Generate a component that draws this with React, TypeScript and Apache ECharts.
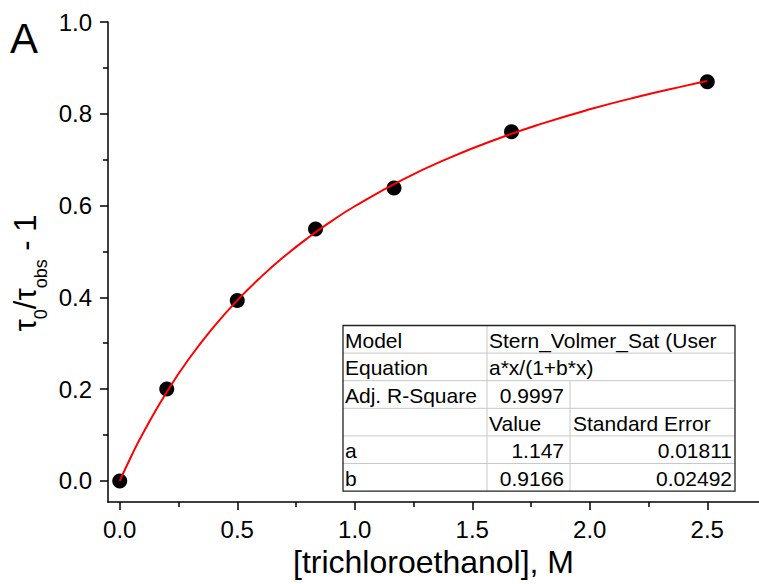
import React, { useEffect, useRef } from "react";
import * as echarts from "echarts";

// Measured points
const concentration = [0, 0.2, 0.5, 0.833, 1.167, 1.667, 2.5];
const ratioMinusOne = [0, 0.2, 0.393, 0.549, 0.638, 0.761, 0.87];

// Fitted curve samples
const fitX = [0, 0.05, 0.1, 0.2, 0.3, 0.4, 0.5, 0.6, 0.7, 0.8, 0.9, 1.0, 1.2, 1.4, 1.6, 1.8, 2.0, 2.2, 2.4, 2.5];
const fitY = [0, 0.0548, 0.1051, 0.1939, 0.2699, 0.3357, 0.3933, 0.444, 0.4891, 0.5294, 0.5657, 0.5985, 0.6555, 0.7033, 0.744, 0.7791, 0.8097, 0.8365, 0.8603, 0.8712];

// Axis ticks
const xMajorTicks = [0, 0.5, 1.0, 1.5, 2.0, 2.5];
const xMinorTicks = [0.25, 0.75, 1.25, 1.75, 2.25];
const yMajorTicks = [0, 0.2, 0.4, 0.6, 0.8, 1.0];
const yMinorTicks = [0.1, 0.3, 0.5, 0.7, 0.9];

// Fit report table
const tableCol1 = ["Model", "Equation", "Adj. R-Square", "", "a", "b"];
const tableCol2 = ["Stern_Volmer_Sat (User", "a*x/(1+b*x)", "0.9997", "Value", "1.147", "0.9166"];
const tableCol3 = ["", "", "", "Standard Error", "0.01811", "0.02492"];

const FONT = "'Liberation Sans', Arial, Helvetica, sans-serif";

export default function App() {
  const ref = useRef<HTMLDivElement>(null);
  useEffect(() => {
    if (!ref.current) return;
    const chart = echarts.init(ref.current, null, { renderer: "svg" });

    const tL = 343, tR = 735, tT = 325.5, rowH = 27.6;
    const c2 = 487, c3 = 570;
    const nRows = tableCol1.length;
    const tB = tT + rowH * nRows;
    const tableEls: any[] = [];
    tableEls.push({ type: "rect", shape: { x: tL, y: tT, width: tR - tL, height: tB - tT }, style: { fill: "#fff", stroke: null }, z: 10 });
    for (let i = 1; i < nRows; i++) {
      tableEls.push({ type: "line", shape: { x1: tL, y1: tT + i * rowH, x2: tR, y2: tT + i * rowH }, style: { stroke: "#c8c8c8", lineWidth: 1 }, z: 11 });
    }
    tableEls.push({ type: "line", shape: { x1: c2, y1: tT, x2: c2, y2: tB }, style: { stroke: "#c8c8c8", lineWidth: 1 }, z: 11 });
    tableEls.push({ type: "line", shape: { x1: c3, y1: tT + 2 * rowH, x2: c3, y2: tB }, style: { stroke: "#c8c8c8", lineWidth: 1 }, z: 11 });
    tableEls.push({ type: "rect", shape: { x: tL, y: tT, width: tR - tL, height: tB - tT }, style: { fill: null, stroke: "#222", lineWidth: 1.3 }, z: 12 });
    const ts = { fontFamily: FONT, fontSize: 21, fill: "#000" };
    for (let i = 0; i < nRows; i++) {
      const cy = tT + i * rowH + rowH / 2 + 1;
      if (tableCol1[i]) tableEls.push({ type: "text", x: tL + 2, y: cy, style: { ...ts, text: tableCol1[i], align: "left", verticalAlign: "middle" }, z: 13 });
      if (tableCol2[i]) {
        const left = i < 2 || i === 3;
        tableEls.push({ type: "text", x: left ? c2 + 2 : c3 - 6, y: cy, style: { ...ts, text: tableCol2[i], align: left ? "left" : "right", verticalAlign: "middle" }, z: 13 });
      }
      if (tableCol3[i]) {
        const left = i === 3;
        tableEls.push({ type: "text", x: left ? c3 + 3 : tR - 3, y: cy, style: { ...ts, text: tableCol3[i], align: left ? "left" : "right", verticalAlign: "middle" }, z: 13 });
      }
    }

    const axisLineStyle = { color: "#000", width: 1.5 };

    chart.setOption({
      animation: false,
      backgroundColor: "#fff",
      grid: { left: 108, right: 0, top: 22, bottom: 82, containLabel: false },
      xAxis: [
        {
          type: "value", min: -0.05, max: 2.72, position: "bottom",
          name: "[trichloroethanol], M", nameLocation: "middle", nameGap: 43,
          nameTextStyle: { fontFamily: FONT, fontSize: 32, color: "#000" },
          axisLine: { show: true, onZero: false, lineStyle: axisLineStyle },
          axisTick: { show: true, inside: false, length: 8, lineStyle: axisLineStyle, customValues: xMajorTicks },
          axisLabel: { show: true, margin: 15, fontFamily: FONT, fontSize: 24, color: "#000", customValues: xMajorTicks, formatter: (v: number) => v.toFixed(1) },
          splitLine: { show: false },
        },
        {
          type: "value", min: -0.05, max: 2.72, position: "bottom", offset: 0,
          axisLine: { show: false, onZero: false },
          axisTick: { show: true, inside: false, length: 5, lineStyle: axisLineStyle, customValues: xMinorTicks },
          axisLabel: { show: false },
          splitLine: { show: false },
        },
      ],
      yAxis: [
        {
          type: "value", min: -0.046, max: 1.0, position: "left",
          axisLine: { show: true, onZero: false, lineStyle: axisLineStyle },
          axisTick: { show: true, inside: false, length: 8, lineStyle: axisLineStyle, customValues: yMajorTicks },
          axisLabel: { show: true, margin: 16, fontFamily: FONT, fontSize: 24, color: "#000", customValues: yMajorTicks, formatter: (v: number) => v.toFixed(1) },
          splitLine: { show: false },
        },
        {
          type: "value", min: -0.046, max: 1.0, position: "left", offset: 0,
          axisLine: { show: false, onZero: false },
          axisTick: { show: true, inside: false, length: 5, lineStyle: axisLineStyle, customValues: yMinorTicks },
          axisLabel: { show: false },
          splitLine: { show: false },
        },
      ],
      series: [
        {
          type: "scatter", xAxisIndex: 0, yAxisIndex: 0,
          data: concentration.map((x, i) => [x, ratioMinusOne[i]]),
          symbol: "circle", symbolSize: 15,
          itemStyle: { color: "#000", opacity: 1 }, z: 2,
        },
        {
          type: "line", xAxisIndex: 0, yAxisIndex: 0,
          data: fitX.map((x, i) => [x, fitY[i]]),
          smooth: true, showSymbol: false, symbol: "none",
          lineStyle: { color: "#ff0000", width: 2 }, z: 3,
        },
      ],
      graphic: [
        { type: "text", left: 10, top: 17, style: { text: "A", fontFamily: FONT, fontSize: 42, fill: "#000" } },
        {
          type: "text", x: 30, y: 273, rotation: Math.PI / 2,
          style: {
            text: "{m|τ}{s|0}{m|/τ}{s|obs}{m| - 1}",
            align: "center", verticalAlign: "middle", fill: "#000",
            rich: {
              m: { fontFamily: FONT, fontSize: 31, verticalAlign: "top", fill: "#000" },
              s: { fontFamily: FONT, fontSize: 18, lineHeight: 40, verticalAlign: "bottom", fill: "#000" },
            },
          },
        },
        { type: "group", children: tableEls },
      ],
    });
    return () => chart.dispose();
  }, []);
  return <div ref={ref} style={{ position: "fixed", left: 0, top: 0, width: 759, height: 584, background: "#fff" }} />;
}
